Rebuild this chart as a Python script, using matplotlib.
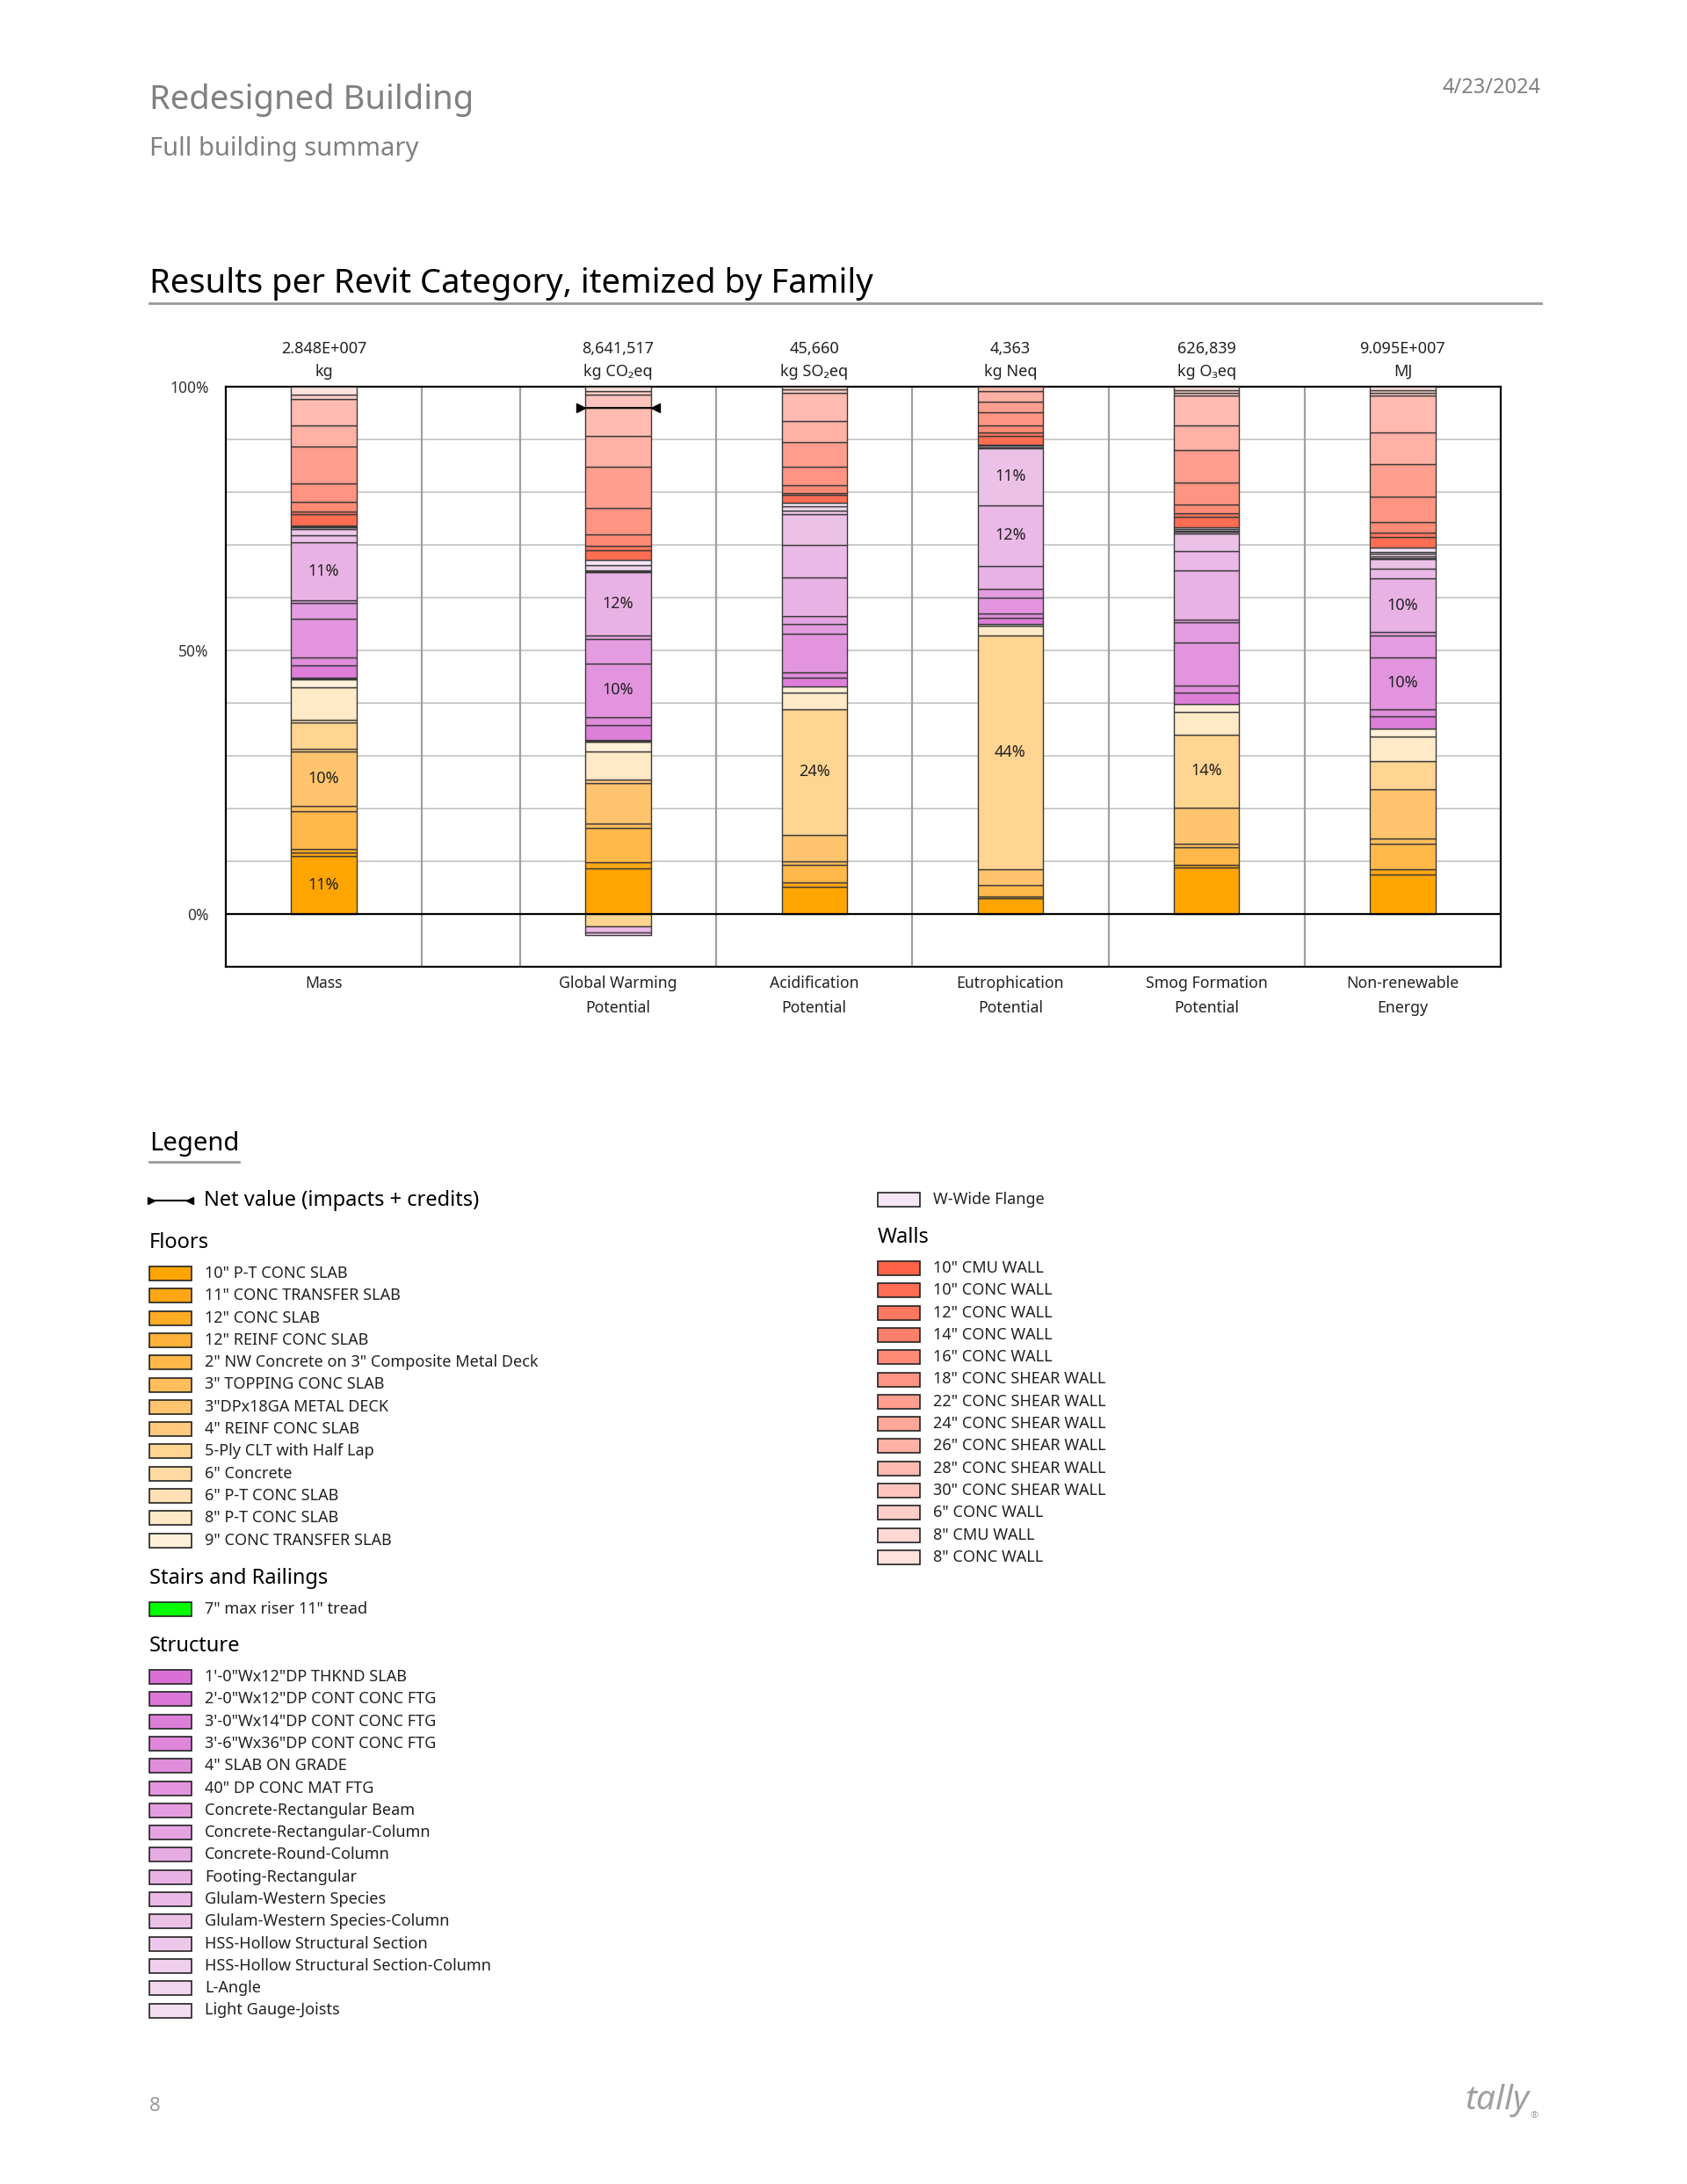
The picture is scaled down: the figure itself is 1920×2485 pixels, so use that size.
import matplotlib
matplotlib.use("Agg")
import matplotlib.pyplot as plt
from matplotlib.patches import Rectangle

plt.rcParams['font.family'] = ['Noto Sans', 'DejaVu Sans']

# ---------------- data ----------------
categories = ["Mass", "Global Warming\nPotential", "Acidification\nPotential",
              "Eutrophication\nPotential", "Smog Formation\nPotential", "Non-renewable\nEnergy"]
totals = ["2.848E+007", "8,641,517", "45,660", "4,363", "626,839", "9.095E+007"]
units = ["kg", "kg CO₂eq", "kg SO₂eq", "kg Neq", "kg O₃eq", "MJ"]

floor_families = ['10" P-T CONC SLAB', '11" CONC TRANSFER SLAB', '12" CONC SLAB', '12" REINF CONC SLAB',
                  '2" NW Concrete on 3" Composite Metal Deck', '3" TOPPING CONC SLAB', '3"DPx18GA METAL DECK',
                  '4" REINF CONC SLAB', '5-Ply CLT with Half Lap', '6" Concrete', '6" P-T CONC SLAB',
                  '8" P-T CONC SLAB', '9" CONC TRANSFER SLAB']
stair_families = ['7" max riser 11" tread']
structure_families = ['1\'-0"Wx12"DP THKND SLAB', '2\'-0"Wx12"DP CONT CONC FTG', '3\'-0"Wx14"DP CONT CONC FTG',
                      '3\'-6"Wx36"DP CONT CONC FTG', '4" SLAB ON GRADE', '40" DP CONC MAT FTG',
                      'Concrete-Rectangular Beam', 'Concrete-Rectangular-Column', 'Concrete-Round-Column',
                      'Footing-Rectangular', 'Glulam-Western Species', 'Glulam-Western Species-Column',
                      'HSS-Hollow Structural Section', 'HSS-Hollow Structural Section-Column', 'L-Angle',
                      'Light Gauge-Joists', 'W-Wide Flange']
wall_families = ['10" CMU WALL', '10" CONC WALL', '12" CONC WALL', '14" CONC WALL', '16" CONC WALL',
                 '18" CONC SHEAR WALL', '22" CONC SHEAR WALL', '24" CONC SHEAR WALL', '26" CONC SHEAR WALL',
                 '28" CONC SHEAR WALL', '30" CONC SHEAR WALL', '6" CONC WALL', '8" CMU WALL', '8" CONC WALL']

# percent of each impact category (row order = categories)
floors_pct = [
    [11.04, 0.68, 0.55, 0, 7.16, 1.02, 10.36, 0.55, 4.90, 0, 0.55, 6.27, 1.36],
    [8.59, 1.24, 0, 0, 6.58, 0.83, 7.62, 0.56, -2.30, 0, 0, 5.40, 1.87],
    [5.11, 0.82, 0, 0, 3.48, 0.61, 4.98, 0, 23.86, 0, 0, 3.07, 1.30],
    [2.93, 0.48, 0, 0, 2.04, 0, 3.07, 0, 44.31, 0, 0, 1.84, 0.41],
    [8.86, 0.55, 0, 0, 3.34, 0.54, 6.82, 0, 13.97, 0, 0, 4.23, 1.57],
    [7.50, 1.02, 0, 0, 4.77, 1.02, 9.34, 0, 5.32, 0, 0, 4.77, 1.36],
]
stairs_pct = [[0], [0], [0], [0], [0], [0]]
structure_pct = [
    [0.20, 0.21, 2.39, 0, 1.50, 7.29, 2.93, 0.55, 0, 11.04, 0, 1.23, 1.29, 0.20, 0.15, 0.10, 0.10],
    [0.20, 0.15, 2.77, 0, 1.52, 10.25, 4.64, 0.55, 0, 12.12, -1.20, -0.50, 0.10, 0.10, 1.04, 0, 1.04],
    [0, 0, 1.64, 0, 0.95, 7.36, 1.84, 1.43, 0, 7.43, 6.20, 5.73, 0.68, 0, 0.89, 0, 0.68],
    [0, 0, 1.16, 0, 0.68, 3.07, 1.70, 0, 0, 4.30, 11.58, 10.71, 0.30, 0, 0.20, 0, 0.18],
    [0, 0, 2.18, 0, 1.23, 8.18, 3.88, 0.41, 0, 9.48, 3.61, 3.27, 0.30, 0.30, 0.30, 0, 0.26],
    [0, 0, 2.39, 0, 1.37, 9.88, 4.09, 0.68, 0, 10.09, 1.84, 1.84, 0.30, 0.25, 0.50, 0.30, 0.90],
]
walls_pct = [
    [0, 2.25, 0.48, 0, 1.84, 3.41, 7.15, 0, 3.96, 4.97, 0, 0.82, 0, 1.50],
    [0, 1.87, 0.84, 0, 2.07, 5.06, 7.75, 0, 5.96, 5.33, 2.43, 0.69, 0, 0.83],
    [0, 1.36, 0.48, 0, 1.37, 3.61, 4.56, 0, 4.10, 5.31, 0, 0.60, 0, 0.60],
    [0, 1.70, 0.68, 0, 1.37, 2.38, 2.05, 0, 2.04, 0.82, 0, 0, 0, 0],
    [0, 2.04, 0.68, 0, 1.71, 4.09, 6.13, 0, 4.78, 5.59, 0, 0.60, 0.50, 0.60],
    [0, 2.04, 0.69, 0, 2.04, 4.91, 6.20, 0, 5.93, 6.96, 0, 0.60, 0.50, 0.60],
]

# ---------------- styles ----------------
floor_colors = ['#FFA500', '#FFA712', '#FFAC25', '#FFB237', '#FFB849', '#FFBE5B', '#FFC46D',
                '#FFCA7F', '#FFD591', '#FFDAA3', '#FFE1B5', '#FFE9C7', '#FFF1D9']
stair_colors = ['#00FF00']
structure_colors = ['#DA70D6', '#DC77D8', '#DD7ED9', '#DF86DB', '#E08DDC', '#E295DE', '#E49CE0',
                    '#E5A3E1', '#E7ABE3', '#E9B2E5', '#EBB9E7', '#ECC1E8', '#EEC8EA', '#F0CFEC',
                    '#F1D7EE', '#F3DEEF', '#F5E6F5']
wall_colors = ['#FF6347', '#FF6D53', '#FF775E', '#FF806A', '#FF8A76', '#FF9482', '#FF9E8E',
               '#FFA799', '#FFB1A5', '#FFBBB1', '#FFC5BD', '#FFCEC9', '#FFD8D4', '#FFE2DE']

W, H = 1920, 2485
fig = plt.figure(figsize=(W / 100, H / 100), dpi=100)
fig.patch.set_facecolor('white')

# page layer in pixel coordinates
pg = fig.add_axes([0, 0, 1, 1])
pg.set_xlim(0, W)
pg.set_ylim(H, 0)
pg.axis('off')

grey = '#808080'
pg.text(170, 114, "Redesigned Building", fontsize=27.5, color=grey, va='center', ha='left')
pg.text(170, 169, "Full building summary", fontsize=21, color=grey, va='center', ha='left')
pg.text(1754, 100, "4/23/2024", fontsize=17, color=grey, va='center', ha='right')
pg.text(170, 323, "Results per Revit Category, itemized by Family", fontsize=27.5, color='black',
        va='center', ha='left')
pg.plot([170, 1754], [345, 345], color='#999999', lw=2)

# ---------------- chart ----------------
ax = fig.add_axes([257 / W, 1 - 1100 / H, (1708 - 257) / W, (1100 - 440) / H])
xpos = [0, 1.5, 2.5, 3.5, 4.5, 5.5]
ax.set_xlim(-0.5, 6.0)
ax.set_ylim(-10, 100)
for gy in range(-10, 101, 10):
    if gy != 0:
        ax.axhline(gy, color='#C4C4C4', lw=1.2, zorder=1)
for gx in [0.5, 1.0, 2.0, 3.0, 4.0, 5.0]:
    ax.axvline(gx, color='#A0A0A0', lw=1.6, zorder=1)
ax.axhline(0, color='black', lw=1.6, zorder=4)
for s in ax.spines.values():
    s.set_color('black')
    s.set_linewidth(1.6)
ax.set_xticks([])
ax.set_yticks([0, 50, 100])
ax.set_yticklabels(["0%", "50%", "100%"], fontsize=12.5, color='#333333')
ax.tick_params(axis='y', length=0, pad=14)

bw = 0.333
for i, x in enumerate(xpos):
    vals = list(floors_pct[i]) + list(stairs_pct[i]) + list(structure_pct[i]) + list(walls_pct[i])
    cols = floor_colors + stair_colors + structure_colors + wall_colors
    pos_b, neg_b = 0.0, 0.0
    for v, c in zip(vals, cols):
        if v == 0:
            continue
        if v > 0:
            b = pos_b
            pos_b += v
        else:
            b = neg_b
            neg_b += v
        ax.bar(x, v, bottom=b, width=bw, color=c, edgecolor='#3A3A3A', linewidth=1.0, zorder=3)
        if round(abs(v)) >= 10:
            ax.text(x, b + v / 2, f"{round(abs(v))}%", ha='center', va='center', fontsize=13,
                    color='#222222', zorder=5)
    if neg_b < 0:
        net = pos_b + neg_b
        hw = 0.19
        ax.plot([x - hw, x + hw], [net, net], color='black', lw=1.3, zorder=6, clip_on=False)
        ax.plot([x - hw], [net], marker='>', color='black', markersize=7, zorder=6, clip_on=False)
        ax.plot([x + hw], [net], marker='<', color='black', markersize=7, zorder=6, clip_on=False)

    ax.annotate(totals[i], xy=(x, 1), xycoords=('data', 'axes fraction'), xytext=(0, 43),
                textcoords='offset pixels', ha='center', va='center', fontsize=13, color='#222222')
    ax.annotate(units[i], xy=(x, 1), xycoords=('data', 'axes fraction'), xytext=(0, 17),
                textcoords='offset pixels', ha='center', va='center', fontsize=13, color='#222222')
    ax.annotate(categories[i], xy=(x, 0), xycoords=('data', 'axes fraction'), xytext=(0, -10),
                textcoords='offset pixels', ha='center', va='top', fontsize=12.7, color='#222222',
                linespacing=1.75)

# ---------------- legend ----------------
pg.text(170, 1302, "Legend", fontsize=21, color='black', va='center', ha='left')
pg.plot([170, 272], [1322, 1322], color='#999999', lw=2)

pg.plot([172, 216], [1366, 1366], color='black', lw=1.5)
pg.plot([172], [1366], marker='>', color='black', markersize=6)
pg.plot([216], [1366], marker='<', color='black', markersize=6)
pg.text(232, 1366, "Net value (impacts + credits)", fontsize=17, color='black', va='center', ha='left')


def swatch(x, y, color, label):
    pg.add_patch(Rectangle((x, y - 8), 48, 16, facecolor=color, edgecolor='#222222', lw=1.2))
    pg.text(x + 63, y, label, fontsize=13, color='#222222', va='center', ha='left')


step = 25.3
pg.text(170, 1414, "Floors", fontsize=17, color='black', va='center', ha='left')
for k, (name, c) in enumerate(zip(floor_families, floor_colors)):
    swatch(170, 1449 + step * k, c, name)

pg.text(170, 1796, "Stairs and Railings", fontsize=17, color='black', va='center', ha='left')
for k, (name, c) in enumerate(zip(stair_families, stair_colors)):
    swatch(170, 1831 + step * k, c, name)

pg.text(170, 1873, "Structure", fontsize=17, color='black', va='center', ha='left')
for k, (name, c) in enumerate(zip(structure_families[:-1], structure_colors[:-1])):
    swatch(170, 1908 + step * k, c, name)
swatch(999, 1365, structure_colors[-1], structure_families[-1])

pg.text(999, 1408, "Walls", fontsize=17, color='black', va='center', ha='left')
for k, (name, c) in enumerate(zip(wall_families, wall_colors)):
    swatch(999, 1443 + step * k, c, name)

# footer
pg.text(170, 2396, "8", fontsize=16, color='#999999', va='center', ha='left')
pg.text(1740, 2390, "tally", fontsize=28, color='#A0A0A0', va='center', ha='right',
        fontweight='bold', style='italic')
pg.text(1742, 2408, "®", fontsize=8, color='#A0A0A0', va='center', ha='left')

fig.savefig("out.png", dpi=100, facecolor='white')
